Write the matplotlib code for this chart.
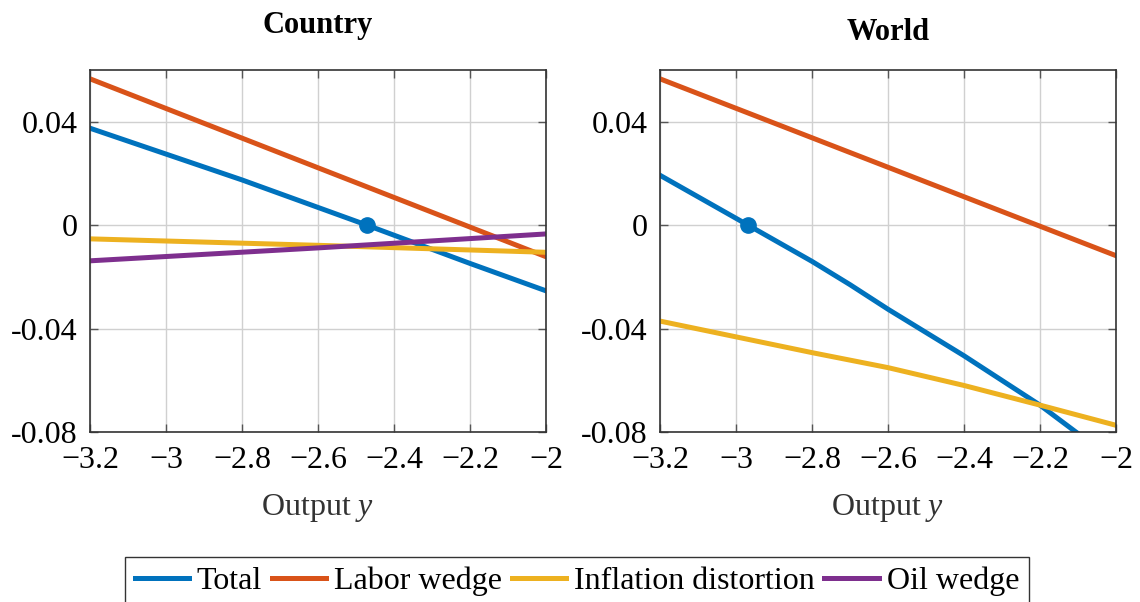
import matplotlib
matplotlib.use("Agg")
import matplotlib.pyplot as plt
from matplotlib.ticker import FuncFormatter

# colores tipo MATLAB
c_total = "#0072BD"
c_labor = "#D95319"
c_infl = "#EDB120"
c_oil = "#7E2F8E"

# Country
x_total_c = [-3.2, -2.8, -2.471, -2.2, -2.0]
y_total_c = [0.0375, 0.0175, 0.0, -0.0148, -0.0254]
x_labor_c = [-3.2, -2.0]
y_labor_c = [0.0566, -0.0122]
x_infl_c = [-3.2, -2.6, -2.0]
y_infl_c = [-0.0053, -0.0078, -0.0105]
x_oil_c = [-3.2, -2.6, -2.0]
y_oil_c = [-0.0138, -0.0088, -0.0034]
ss_c = (-2.471, 0.0)

# World
x_total_w = [-3.2, -2.968, -2.8, -2.7, -2.6, -2.4, -2.2, -2.0]
y_total_w = [0.0193, 0.0, -0.0140, -0.0230, -0.0325, -0.0505, -0.0696, -0.0916]
x_labor_w = [-3.2, -2.0]
y_labor_w = [0.0566, -0.0118]
x_infl_w = [-3.2, -2.8, -2.6, -2.4, -2.2, -2.0]
y_infl_w = [-0.0371, -0.0493, -0.0551, -0.0620, -0.0696, -0.0774]
ss_w = (-2.968, 0.0)

xticks = [-3.2, -3.0, -2.8, -2.6, -2.4, -2.2, -2.0]
yticks = [-0.08, -0.04, 0.0, 0.04]

plt.rcParams['font.family'] = ['Liberation Serif', 'DejaVu Serif']
plt.rcParams['mathtext.fontset'] = 'custom'
plt.rcParams['mathtext.rm'] = 'Liberation Serif'
plt.rcParams['mathtext.it'] = 'Liberation Serif:italic'

fs = 23

fig = plt.figure(figsize=(11.4, 6.02), dpi=100)
ax1 = fig.add_axes([0.0789, 0.2824, 0.4, 0.6013])
ax2 = fig.add_axes([0.5789, 0.2824, 0.4, 0.6013])

lw = 3.6

ax1.plot(x_total_c, y_total_c, color=c_total, lw=lw, label="Total")
ax1.plot(x_labor_c, y_labor_c, color=c_labor, lw=lw, label="Labor wedge")
ax1.plot(x_infl_c, y_infl_c, color=c_infl, lw=lw, label="Inflation distortion")
ax1.plot(x_oil_c, y_oil_c, color=c_oil, lw=lw, label="Oil wedge")
ax1.plot([ss_c[0]], [ss_c[1]], 'o', color=c_total, ms=11, zorder=5)

ax2.plot(x_total_w, y_total_w, color=c_total, lw=lw)
ax2.plot(x_labor_w, y_labor_w, color=c_labor, lw=lw)
ax2.plot(x_infl_w, y_infl_w, color=c_infl, lw=lw)
ax2.plot([ss_w[0]], [ss_w[1]], 'o', color=c_total, ms=11, zorder=5)


def fmt_x(v, pos):
    return ('%g' % v).replace('-', '\u2212')


def fmt_y(v, pos):
    if abs(v) < 1e-9:
        return '0'
    return '%g' % v


for ax in (ax1, ax2):
    ax.set_xlim(-3.2, -2.0)
    ax.set_ylim(-0.08, 0.06)
    ax.set_xticks(xticks)
    ax.set_yticks(yticks)
    ax.xaxis.set_major_formatter(FuncFormatter(fmt_x))
    ax.yaxis.set_major_formatter(FuncFormatter(fmt_y))
    ax.grid(True, color='#d0d0d0', lw=1.0)
    ax.set_axisbelow(True)
    ax.tick_params(direction='in', length=6, width=1, color='#555555',
                   top=True, right=True, labelsize=fs)
    ax.tick_params(axis='x', pad=10)
    ax.tick_params(axis='y', pad=9)
    for s in ax.spines.values():
        s.set_color('#333333')
        s.set_linewidth(1.2)
    ax.set_xlabel('Output $y$', fontsize=fs, labelpad=12, color='#333333')

fig.text(0.279, 1 - 25 / 602, 'Country', ha='center', va='center',
         fontsize=22, fontweight='bold')
fig.text(0.779, 1 - 33 / 602, 'World', ha='center', va='center',
         fontsize=22, fontweight='bold')

leg = fig.legend(loc='upper center', bbox_to_anchor=(0.506, 1 - 557 / 602),
                 ncol=4, fontsize=fs, frameon=True, fancybox=False,
                 handlelength=1.7, handletextpad=0.25, columnspacing=0.3,
                 borderpad=0.3, borderaxespad=0)
leg.get_frame().set_edgecolor('black')
leg.get_frame().set_linewidth(1.0)

fig.savefig('out.png', dpi=100)
